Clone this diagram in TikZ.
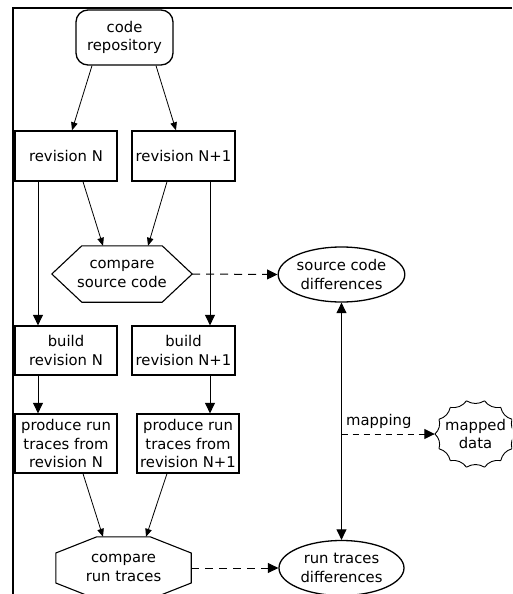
\documentclass[tikz,border=0pt]{standalone}
\usepackage{fontspec}
\setmainfont{DejaVu Sans}
\usetikzlibrary{arrows.meta,calc,shapes.geometric}
\begin{document}
\begin{tikzpicture}[x=1pt,y=-1pt,
  every node/.style={font=\fontsize{14.8}{18.3}\selectfont, align=center, inner sep=0pt},
  box/.style={draw, line width=1.3pt},
  outline/.style={line width=1.1pt, line join=miter},
  small/.style={-{Triangle[length=8pt,width=6.5pt]}, line width=0.8pt},
  big/.style={-{Triangle[length=10.5pt,width=10pt]}, line width=1pt},
  dashy/.style={big, dash pattern=on 8pt off 6pt},
  both/.style={{Triangle[length=10.5pt,width=10pt]}-{Triangle[length=10.5pt,width=10pt]}, line width=1pt}]
\clip (0,0) rectangle (512,594);
\fill[white] (0,0) rectangle (512,594);
\draw[line width=2pt] (13,594) -- (13,8.5) -- (512,8.5);

\node[box, rounded corners=12pt, minimum width=97pt, minimum height=55pt] (repo) at (124.5,37.5) {code\\repository};
\node[box, minimum width=102pt, minimum height=50pt] (revN) at (66,156) {revision N};
\node[box, minimum width=103pt, minimum height=50pt] (revN1) at (183.5,156) {revision N+1};

\node[minimum width=140pt, minimum height=56pt] (cs) at (122,274) {compare\\source code};
\draw[outline] (cs.west) -- ($(cs.north west)+(30,0)$) -- ($(cs.north east)+(-30,0)$) -- (cs.east)
  -- ($(cs.south east)+(-30,0)$) -- ($(cs.south west)+(30,0)$) -- cycle;

\node[box, ellipse, minimum width=125pt, minimum height=55pt] (scd) at (341.5,274.5) {source code\\differences};

\node[box, minimum width=102pt, minimum height=49pt] (bN) at (66,350.5) {build\\revision N};
\node[box, minimum width=103pt, minimum height=49pt] (bN1) at (183.5,350.5) {build\\revision N+1};

\node[box, minimum width=102pt, minimum height=59pt] (pN) at (66,443.5) {produce run\\traces from\\revision N};
\node[box, minimum width=102pt, minimum height=59pt] (pN1) at (188,443.5) {produce run\\traces from\\revision N+1};

\node[minimum width=135pt, minimum height=62pt] (ct) at (123.5,568) {compare\\run traces};
\draw[outline] ($(ct.north west)+(41,0)$) -- ($(ct.north east)+(-41,0)$) -- ($(ct.east)+(0,-15)$)
  -- ($(ct.east)+(0,15)$) -- ($(ct.south east)+(-41,0)$) -- ($(ct.south west)+(41,0)$)
  -- ($(ct.west)+(0,15)$) -- ($(ct.west)+(0,-15)$) -- cycle;

\node[box, ellipse, minimum width=125pt, minimum height=55pt] (rtd) at (341.5,568) {run traces\\differences};

\node[minimum width=81pt, minimum height=68pt] (md) at (475.5,434) {mapped\\data};
\foreach \i in {0,...,13}{
  \draw[line width=0.9pt] ($(md.center)+({40.5*cos(\i*360/14)},{34*sin(\i*360/14)})$)
    to[bend right=30] ($(md.center)+({40.5*cos((\i+1)*360/14)},{34*sin((\i+1)*360/14)})$);
}
\coordinate (mp) at (341.5,434);

% connectors
\draw[small] ($(repo.south)+(-32.5,0)$) -- ($(revN.north)+(6,0)$);
\draw[small] ($(repo.south)+(31.5,0)$) -- ($(revN1.north)+(-7.5,0)$);
\draw[small] ($(revN.south)+(17,0)$) -- ($(cs.north)+(-19,0)$);
\draw[small] ($(revN1.south)+(-16.5,0)$) -- ($(cs.north)+(26,0)$);
\draw[big] ($(revN.south)+(-28,0)$) -- ($(bN.north)+(-28,0)$);
\draw[big] ($(revN1.south)+(26.5,0)$) -- ($(bN1.north)+(26.5,0)$);
\draw[big] ($(bN.south)+(-28,0)$) -- ($(pN.north)+(-28,0)$);
\draw[big] ($(bN1.south)+(26.5,0)$) -- ($(pN1.north)+(22,0)$);
\draw[small] ($(pN.south)+(17,0)$) -- ($(ct.north)+(-20.5,0)$);
\draw[small] ($(pN1.south)+(-21,0)$) -- ($(ct.north)+(22.5,0)$);
\draw[dashy] (cs.east) -- (scd.west);
\draw[dashy] (ct.east) -- (rtd.west);
\draw[both] (scd.south) -- (rtd.north);
\draw[dashy, dash pattern=on 6pt off 5pt] (mp) -- node[pos=0.4, above, inner sep=5pt] {mapping} (md.west);
\end{tikzpicture}
\end{document}
